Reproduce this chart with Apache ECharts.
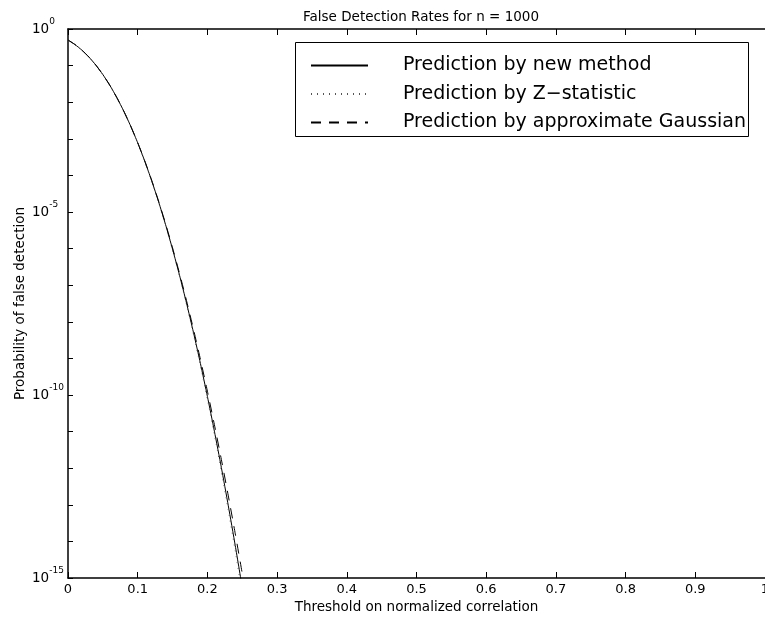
<!DOCTYPE html>
<html><head><meta charset="utf-8">
<script src="https://cdn.jsdelivr.net/npm/echarts@6/dist/echarts.min.js"></script>
<style>html,body{margin:0;padding:0;background:#fff}#c{width:765px;height:623px}</style>
</head><body><div id="c"></div>
<script>
// Threshold on normalized correlation
const thresholds = [0, 0.01, 0.02, 0.03, 0.04, 0.05, 0.06, 0.07, 0.08, 0.09, 0.10, 0.11, 0.12,
  0.13, 0.14, 0.15, 0.16, 0.17, 0.18, 0.19, 0.20, 0.21, 0.22, 0.23, 0.24, 0.25];
// Probability of false detection
const newMethod = [0.5, 0.376, 0.2636, 0.1714, 0.1030, 0.0569, 0.0290, 0.01345, 0.00571, 0.00221,
  7.79e-4, 2.49e-4, 7.22e-5, 1.90e-5, 4.51e-6, 9.66e-7, 1.87e-7, 3.27e-8, 5.13e-9, 7.24e-10,
  9.14e-11, 1.03e-11, 1.05e-12, 9.4e-14, 7.6e-15, 5.5e-16];
const zStatistic = [0.5, 0.3761, 0.2638, 0.1717, 0.1032, 0.0570, 0.0289, 0.0134, 0.00568, 0.00219,
  7.67e-4, 2.44e-4, 7.02e-5, 1.83e-5, 4.30e-6, 9.12e-7, 1.74e-7, 2.98e-8, 4.56e-9, 6.28e-10,
  7.70e-11, 8.43e-12, 8.2e-13, 7.1e-14, 5.4e-15, 3.7e-16];
const approxGaussian = [0.5, 0.376, 0.2636, 0.1714, 0.1030, 0.0569, 0.0289, 0.0134, 0.00570, 0.00221,
  7.83e-4, 2.52e-4, 7.39e-5, 1.97e-5, 4.78e-6, 1.05e-6, 2.10e-7, 3.81e-8, 6.28e-9, 9.39e-10,
  1.27e-10, 1.56e-11, 1.74e-12, 1.75e-13, 1.61e-14, 1.33e-15];
const xTickLabels = ['0', '0.1', '0.2', '0.3', '0.4', '0.5', '0.6', '0.7', '0.8', '0.9', '1'];
const yLabelExponents = [0, -5, -10, -15];
const seriesNames = ['Prediction by new method', 'Prediction by Z\u2212statistic', 'Prediction by approximate Gaussian'];

const FONT = 'DejaVu Sans';
const toPts = arr => thresholds.map((t, i) => [t, Math.log10(arr[i])]);

const chart = echarts.init(document.getElementById('c'), null, {renderer: 'canvas'});
const axisLineStyle = {color: '#000', width: 1.5};
const option = {
  backgroundColor: '#fff',
  animation: false,
  title: {
    text: 'False Detection Rates for n = 1000',
    left: 416, top: 5, textAlign: 'center',
    textStyle: {fontFamily: FONT, fontSize: 13.5, fontWeight: 'normal', color: '#000'}
  },
  grid: {left: 68, right: 0, top: 29, bottom: 45, containLabel: false, outerBoundsMode: 'none'},
  legend: {
    orient: 'vertical', left: 310, top: 56, padding: 0,
    itemWidth: 57, itemHeight: 14, itemGap: 9.5,
    selectedMode: false,
    itemStyle: {opacity: 0, borderWidth: 0},
    textStyle: {fontFamily: FONT, fontSize: 19, color: '#000', padding: [0, 0, 0, 30]},
    data: seriesNames
  },
  graphic: [{
    type: 'rect', z: 100,
    shape: {x: 295.5, y: 42.5, width: 453, height: 94},
    style: {fill: null, stroke: '#000', lineWidth: 1}
  }],
  xAxis: [{
    type: 'value', min: 0, max: 1, interval: 0.1, position: 'bottom',
    name: 'Threshold on normalized correlation', nameLocation: 'middle', nameGap: 22,
    nameMoveOverlap: false,
    nameTextStyle: {fontFamily: FONT, fontSize: 13.5, color: '#000'},
    axisLine: {show: true, onZero: false, lineStyle: axisLineStyle},
    axisTick: {show: true, inside: true, length: 6, lineStyle: {color: '#000', width: 1}},
    axisLabel: {
      margin: 5, fontFamily: FONT, fontSize: 13, color: '#000',
      showMinLabel: true, showMaxLabel: true, hideOverlap: false,
      formatter: v => xTickLabels[Math.round(v * 10)]
    },
    splitLine: {show: false}
  }, {
    type: 'value', min: 0, max: 1, interval: 0.1, position: 'top',
    axisLine: {show: true, onZero: false, lineStyle: axisLineStyle},
    axisTick: {show: true, inside: true, length: 6, lineStyle: {color: '#000', width: 1}},
    axisLabel: {show: false},
    splitLine: {show: false}
  }],
  yAxis: [{
    type: 'value', min: -15, max: 0, interval: 1,
    name: 'Probability of false detection', nameLocation: 'middle', nameGap: 41, nameRotate: 90,
    nameMoveOverlap: false,
    nameTextStyle: {fontFamily: FONT, fontSize: 13.5, color: '#000'},
    axisLine: {show: true, onZero: false, lineStyle: axisLineStyle},
    axisTick: {show: true, inside: true, length: 5, lineStyle: {color: '#000', width: 1}},
    axisLabel: {
      margin: 36, align: 'left', color: '#000',
      showMinLabel: true, showMaxLabel: true,
      formatter: v => yLabelExponents.indexOf(v) >= 0 ? '{b|10}{s|' + (v === 0 ? '0' : '-' + Math.abs(v)) + '}' : '',
      rich: {
        b: {fontFamily: FONT, fontSize: 13.5, lineHeight: 24, color: '#000'},
        s: {fontFamily: FONT, fontSize: 9, lineHeight: 9, verticalAlign: 'top', color: '#000'}
      }
    },
    splitLine: {show: false}
  }],
  series: [
    {name: seriesNames[0], type: 'line', data: toPts(newMethod), symbol: 'none', smooth: 0.2, clip: true,
     lineStyle: {color: '#000', width: 1, type: 'solid'}, itemStyle: {color: '#000'}},
    {name: seriesNames[1], type: 'line', data: toPts(zStatistic), symbol: 'none', smooth: 0.2, clip: true,
     lineStyle: {color: '#555', width: 1, type: [1, 5]}, itemStyle: {color: '#555'}},
    {name: seriesNames[2], type: 'line', data: toPts(approxGaussian), symbol: 'none', smooth: 0.2, clip: true,
     lineStyle: {color: '#000', width: 1, type: [10, 8]}, itemStyle: {color: '#000'}}
  ]
};
chart.setOption(option);
</script>
</body></html>
